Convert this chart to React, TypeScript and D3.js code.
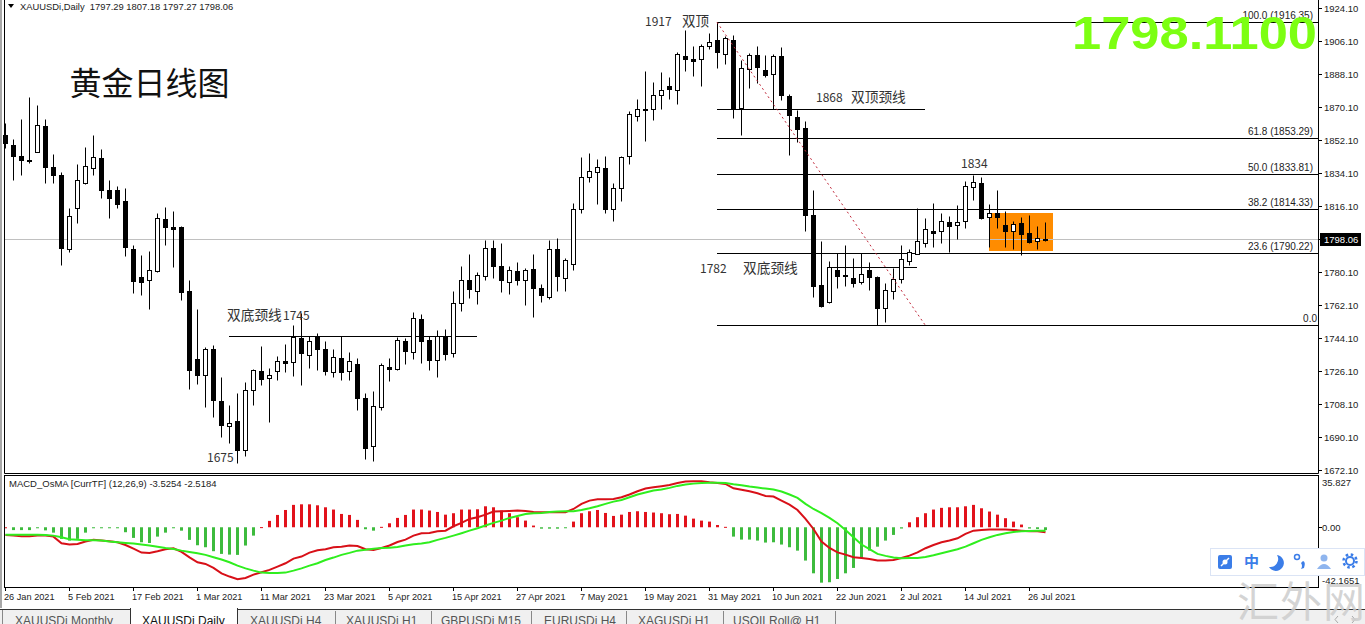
import React from "react";
import * as d3 from "d3";

const opens = [
  1854.8,1849.4,1843.4,1841.2,1845.5,1859.7,1837.4,1833.0,1792.6,1815.0,
  1828.6,1836.8,1842.3,1824.8,1824.8,1818.8,1792.6,1777.4,1775.7,1780.6,
  1809.0,1804.6,1804.6,1769.7,1732.7,1723.9,1738.1,1709.7,1696.1,1698.9,
  1683.0,1715.7,1726.1,1722.3,1726.1,1731.5,1731.0,1744.1,1734.8,1744.6,
  1738.1,1725.5,1733.2,1726.1,1729.9,1711.4,1685.2,1706.5,1728.3,1727.2,
  1742.5,1736.5,1754.4,1743.0,1732.1,1745.2,1735.9,1763.2,1775.7,1769.7,
  1777.9,1793.2,1783.4,1774.6,1780.6,1775.7,1781.7,1771.4,1766.4,1792.6,
  1776.8,1784.5,1814.5,1831.9,1834.6,1836.8,1814.5,1825.9,1843.4,1865.2,
  1868.5,1869.0,1876.6,1881.6,1879.4,1897.9,1896.3,1896.3,1903.4,1906.6,
  1899.0,1906.6,1869.6,1890.8,1898.5,1890.3,1888.1,1897.9,1876.1,1864.6,
  1858.6,1811.2,1773.0,1763.7,1781.2,1778.5,1776.8,1774.6,1781.2,1777.4,
  1760.5,1769.7,1776.3,1786.1,1789.9,1795.9,1802.5,1802.5,1807.4,1805.7,
  1807.9,1826.5,1828.6,1810.1,1812.3,1805.7,1802.5,1806.8,1801.4,1797.0,1797.29,
];
const closes = [
  1850.5,1843.4,1841.2,1840.7,1860.3,1837.4,1833.0,1793.2,1810.6,1830.3,
  1837.9,1842.8,1824.8,1820.5,1817.2,1793.7,1775.2,1774.6,1781.2,1809.5,
  1804.6,1803.5,1769.2,1726.6,1723.9,1738.1,1710.3,1696.7,1697.8,1683.0,
  1715.7,1726.6,1721.7,1723.9,1731.5,1730.4,1744.6,1735.9,1742.5,1738.1,
  1726.1,1733.7,1725.5,1731.5,1711.4,1684.1,1707.0,1729.4,1727.2,1743.0,
  1737.0,1755.0,1742.5,1732.1,1745.2,1735.4,1763.2,1775.7,1770.8,1778.5,
  1793.2,1783.4,1775.7,1781.2,1775.7,1781.2,1771.4,1767.5,1792.6,1777.9,
  1786.6,1814.5,1831.9,1835.2,1837.4,1814.5,1825.9,1842.8,1866.3,1869.0,
  1869.0,1876.6,1879.4,1879.9,1899.0,1896.3,1895.2,1903.4,1905.5,1900.1,
  1907.7,1869.6,1891.4,1898.5,1891.9,1887.5,1897.9,1876.6,1865.7,1858.1,
  1811.2,1772.5,1761.5,1782.8,1777.9,1777.9,1774.1,1779.0,1777.4,1760.5,
  1770.3,1776.3,1787.2,1791.0,1797.0,1803.5,1801.4,1807.9,1805.2,1807.4,
  1827.0,1829.2,1809.5,1812.3,1810.1,1802.5,1806.3,1800.8,1796.5,1798.6,1798.06,
];
const highs = [
  1861.4,1852.7,1863.5,1875.6,1871.2,1863.5,1844.5,1834.6,1815.0,1839.0,
  1848.3,1854.8,1847.2,1830.3,1827.0,1825.9,1794.8,1789.4,1791.6,1812.3,
  1815.6,1813.4,1805.2,1775.7,1759.9,1739.2,1740.3,1722.8,1707.6,1714.1,
  1720.1,1727.2,1739.7,1727.7,1734.3,1740.8,1751.2,1757.7,1745.2,1746.8,
  1742.5,1738.1,1745.2,1736.5,1733.2,1714.1,1715.2,1730.5,1733.2,1744.6,
  1744.1,1758.3,1757.2,1745.2,1748.5,1749.0,1769.7,1783.4,1790.0,1780.1,
  1797.6,1797.6,1795.9,1783.4,1785.5,1782.3,1790.0,1773.5,1797.6,1798.6,
  1787.7,1817.7,1842.8,1845.0,1841.7,1843.4,1828.6,1843.4,1867.9,1874.5,
  1889.7,1883.7,1889.2,1886.5,1900.1,1912.1,1903.4,1904.5,1910.5,1916.35,
  1908.8,1909.4,1895.7,1899.5,1903.4,1898.5,1899.0,1902.8,1877.2,1868.5,
  1862.5,1824.8,1797.0,1786.1,1790.5,1794.8,1787.7,1790.5,1785.5,1777.9,
  1774.1,1782.3,1794.8,1792.6,1815.0,1809.5,1817.7,1812.3,1810.6,1816.6,
  1829.7,1833.0,1831.9,1817.2,1824.8,1813.4,1807.9,1810.1,1811.2,1805.2,1807.18,
];
const lows = [
  1847.7,1830.3,1833.0,1839.6,1845.5,1828.6,1828.6,1783.9,1791.0,1806.9,
  1828.1,1833.0,1820.5,1809.5,1815.0,1788.8,1768.6,1767.5,1759.9,1780.1,
  1794.8,1782.8,1764.8,1716.3,1719.0,1706.5,1701.0,1690.1,1686.9,1675.9,
  1679.7,1707.6,1718.5,1698.3,1721.2,1725.5,1723.4,1718.5,1727.7,1726.6,
  1723.9,1722.8,1721.2,1721.2,1704.8,1678.1,1677.0,1704.8,1720.7,1726.6,
  1729.9,1732.6,1730.4,1726.6,1722.8,1732.1,1733.7,1758.8,1765.9,1762.6,
  1775.7,1776.8,1769.2,1768.1,1773.0,1762.1,1755.6,1763.7,1765.4,1769.7,
  1769.7,1781.2,1812.3,1829.2,1817.2,1812.3,1807.9,1818.8,1839.0,1862.5,
  1851.6,1863.0,1869.0,1874.5,1871.7,1889.7,1887.0,1881.6,1901.7,1891.4,
  1893.6,1864.1,1854.8,1880.5,1883.2,1886.5,1869.0,1873.9,1843.9,1851.0,
  1802.5,1766.5,1761.0,1763.2,1771.4,1772.5,1771.9,1773.5,1770.3,1751.27,
  1752.8,1765.4,1774.1,1783.9,1789.9,1793.7,1793.7,1795.9,1791.0,1798.1,
  1804.1,1819.4,1809.0,1793.7,1804.1,1793.7,1792.6,1789.4,1795.9,1792.6,1797.27,
];
const osma = [
  0,-2,-2,-2,-0.5,-2.2,-3.8,-8.2,-9.4,-8.2,
  -3.8,-0.3,-0.3,-0.3,-0.3,-3.5,-7.5,-10.6,-11.1,-6.6,
  -3.8,-0.3,-2.4,-8.9,-12.7,-14.1,-16.9,-18.8,-19.3,-19.5,
  -12.9,-5.9,0.1,4.5,8.7,12.2,15.8,16.2,16.2,15.5,
  14.1,12.5,9.4,8.7,5.2,-1.4,-2.4,0.3,2.8,6.6,
  8.7,12.5,12.5,11.8,10.8,8.9,9.9,12.5,12.5,12.7,
  14.8,14.1,11.8,9.9,7.1,4.7,1.2,-1,-1,-1,
  -0.5,4,9.9,11.3,12.2,10.1,8,8.9,10.8,11.3,
  10.8,10.4,9.9,9.2,9.4,8.2,6.1,4.7,4,1.6,
  0.3,-6.6,-8.7,-8.7,-9.4,-10.8,-10.6,-12.2,-14.1,-16.5,
  -23.5,-32.5,-39.1,-38.8,-36.5,-32.5,-28.7,-21.7,-16.5,-13.7,
  -9.4,-5.4,-0.9,3.5,7.1,9.9,12.5,13.7,14.1,14.1,
  14.8,15.8,13.4,11.1,8.9,6.4,4,1.9,-0.9,-1.2,-2,
];
const macdLine = [
  -5.4,-5.9,-6.4,-6.4,-5.9,-5.9,-6.6,-11.3,-12.2,-11.8,
  -10.1,-8.9,-9.4,-9.9,-10.6,-12.5,-15.1,-17.9,-18.1,-16.9,
  -15.5,-14.8,-17.4,-21.2,-24.7,-25.9,-28.7,-32.5,-34.8,-36.7,
  -35.8,-33.4,-31.8,-30.1,-27.8,-25.4,-22.1,-20.7,-17.9,-16.2,
  -15.5,-14.1,-13.7,-12.9,-13.2,-15.5,-16.0,-14.6,-12.9,-10.4,
  -8.7,-5.9,-4.2,-4.0,-2.8,-2.4,0.7,3.1,5.9,7.1,
  8.9,11.1,11.3,11.5,11.8,11.5,10.8,10.6,10.6,10.6,
  10.6,12.9,16.5,18.8,19.8,19.8,20.0,21.2,23.1,25.4,
  27.3,28.2,29.0,29.9,31.3,32.3,32.5,32.5,31.8,31.3,
  30.6,27.5,26.4,25.4,24.0,22.1,21.7,18.8,16.0,12.2,
  5.9,-1.2,-10.1,-14.6,-17.7,-19.3,-21.2,-21.7,-22.4,-23.5,
  -23.5,-23.1,-21.7,-20.0,-17.7,-14.8,-12.5,-10.6,-9.4,-7.8,
  -4.7,-2.4,-1.9,-1.6,-1.6,-1.6,-1.9,-2.4,-2.8,-2.8,-3.5254,
];
const signalLine = [
  -5.2,-5.2,-5.2,-5.2,-5.2,-5.4,-5.9,-7.1,-8.5,-8.9,
  -9.2,-9.2,-9.4,-10.1,-10.6,-11.1,-11.5,-12.2,-12.9,-13.7,
  -14.6,-15.3,-16.5,-17.4,-18.4,-19.5,-21.2,-22.8,-24.7,-27.1,
  -29.0,-30.6,-32.0,-32.3,-32.3,-32.0,-30.6,-29.0,-27.1,-25.4,
  -23.1,-21.4,-19.5,-18.1,-16.5,-15.8,-15.1,-14.6,-14.4,-13.9,
  -12.9,-12.0,-11.5,-10.6,-8.9,-7.5,-5.9,-4.2,-2.4,-0.7,
  1.2,3.1,4.7,6.6,8.0,9.4,9.9,10.1,10.8,11.1,
  11.3,11.3,12.2,13.4,14.8,16.5,18.1,19.3,21.2,23.1,
  24.5,25.9,26.6,27.8,29.2,30.1,30.8,31.3,31.5,31.5,
  31.3,30.4,29.7,28.7,28.0,27.3,26.6,25.2,23.1,20.7,
  16.5,12.9,9.9,6.6,2.8,-1.9,-7.1,-12.2,-15.5,-18.8,
  -20.2,-21.4,-21.9,-21.7,-21.7,-21.0,-19.8,-18.4,-16.9,-15.5,
  -13.7,-11.3,-8.9,-7.1,-5.4,-4.2,-3.3,-2.8,-2.6,-2.4,-2.5184,
];

const priceTicks = [1924.1,1906.1,1888.1,1870.1,1852.1,1834.1,1816.1,1798.1,1780.1,1762.1,1744.1,1726.1,1708.1,1690.1,1672.1];
const dateLabels = ["26 Jan 2021","5 Feb 2021","17 Feb 2021","1 Mar 2021","11 Mar 2021","23 Mar 2021","5 Apr 2021","15 Apr 2021","27 Apr 2021","7 May 2021","19 May 2021","31 May 2021","10 Jun 2021","22 Jun 2021","2 Jul 2021","14 Jul 2021","26 Jul 2021"];
const fibLevels = [100.0, 61.8, 50.0, 38.2, 23.6, 0.0];
const fibPrices = [1916.35, 1853.29, 1833.81, 1814.33, 1790.22, 1751.27];
const tabNames = ["XAUUSDi Monthly","XAUUSDi Daily","XAUUSDi H4","XAUUSDi H1","GBPUSDi M15","EURUSDi H4","XAGUSDi H1","USOILRoll@ H1"];
const macdAxis = [35.827, 0, -42.1651];
const macdAxisLabels = ["35.827", "0.00", "-42.1651"];

const UI = "'Liberation Sans', Arial, sans-serif";
const CJK = "'Noto Sans CJK SC', sans-serif";
const AXC = "#222";

const x = d3.scaleLinear().domain([0, 130]).range([5.5, 1045.5]);
const y = d3.scaleLinear().domain([1672.1, 1924.1]).range([470, 8]);
const m = d3.scaleLinear().domain([-42.1651, 35.827]).range([587, 476.5]);
const snap = (v: number) => Math.round(v) + 0.5;

const macdPath = d3.line<number>().x((_, i) => x(i)).y((d) => m(d)).curve(d3.curveLinear);

function Candle({ i }: { i: number }) {
  const o = opens[i], c = closes[i];
  const cx = x(i);
  const top = snap(y(Math.max(o, c)));
  const bot = snap(y(Math.min(o, c)));
  const bear = c < o || bot - top <= 1;
  return (
    <g>
      <line x1={cx} x2={cx} y1={snap(y(highs[i]))} y2={snap(y(lows[i]))} stroke="#000" strokeWidth={1} />
      {bear ? (
        <rect x={cx - 2.5} y={top - 0.5} width={5} height={Math.max(bot - top + 1, 1)} fill="#000" />
      ) : (
        <rect x={cx - 2} y={top} width={4} height={bot - top} fill="#fff" stroke="#000" strokeWidth={1} />
      )}
    </g>
  );
}

const tabX = [15, 142, 250, 346, 441, 544, 638, 733];
const sepX = [335, 431, 531, 626, 723, 835];

export default function App() {
  return (
    <div style={{ position: "absolute", left: 0, top: 0, width: 1365, height: 624, overflow: "hidden" }}>
      <svg width={1365} height={624} style={{ display: "block", background: "#fff" }}>
        {/* window edge */}
        <rect x={0} y={0} width={2} height={608} fill="#a8a8a8" />

        {/* orange box */}
        <rect x={989} y={213} width={64} height={38} fill="#ff8c00" />
        {/* current price line */}
        <line x1={4} x2={1318} y1={snap(y(1798.06))} y2={snap(y(1798.06))} stroke="#c0c0c0" />
        {/* fib lines */}
        {fibPrices.map((p) => (
          <line key={p} x1={717} x2={1318} y1={snap(y(p))} y2={snap(y(p))} stroke="#000" />
        ))}
        {/* neck lines */}
        <line x1={229} x2={477} y1={snap(y(1745.2))} y2={snap(y(1745.2))} stroke="#000" />
        <line x1={717} x2={925} y1={snap(y(1869))} y2={snap(y(1869))} stroke="#000" />
        <line x1={827} x2={917} y1={snap(y(1782.8))} y2={snap(y(1782.8))} stroke="#000" />
        {/* candles */}
        {opens.map((_, i) => <Candle key={i} i={i} />)}
        {/* fib trend */}
        <line x1={717} y1={y(1916.35)} x2={925} y2={y(1751.27)} stroke="#c0283a" strokeDasharray="2 3" />

        {/* annotations */}
        <g fontFamily={CJK} fontSize={12} fill="#333">
          <text x={645} y={26}>1917</text>
          <text x={682} y={26} fontSize={13.5}>双顶</text>
          <text x={816} y={102}>1868</text>
          <text x={851} y={102} fontSize={13.7}>双顶颈线</text>
          <text x={961} y={168}>1834</text>
          <text x={700} y={273}>1782</text>
          <text x={743} y={273} fontSize={13.7}>双底颈线</text>
          <text x={227} y={320} fontSize={13.7}>双底颈线</text>
          <text x={283} y={320}>1745</text>
          <text x={207} y={462}>1675</text>
        </g>
        <text x={69.5} y={95} fontFamily={CJK} fontSize={32} fill="#111">黄金日线图</text>
        {/* fib labels */}
        <g fontFamily={UI} fontSize={10} fill="#222" textAnchor="end">
          {fibLevels.map((l, i) => (
            <text key={l} x={l === 0 ? 1317 : 1313} y={Math.round(y(fibPrices[i])) - 3}>
              {l === 0 ? "0.0" : `${l.toFixed(1)} (${fibPrices[i].toFixed(2)})`}
            </text>
          ))}
        </g>
        {/* big quote */}
        <text x={1072} y={49} fontFamily={UI} fontWeight={700} fontSize={47} fill="#7cff12" textLength={245} lengthAdjust="spacingAndGlyphs">1798.1100</text>

        {/* info text */}
        <path d="M8 4 L14 4 L11 8 Z" fill="#000" />
        <text x={20} y={10} fontFamily={UI} fontSize={9.4} fill="#222" xmlSpace="preserve">XAUUSDi,Daily  1797.29 1807.18 1797.27 1798.06</text>

        {/* main pane frame: left, bottom, right */}
        <path d="M4.5 0 V473.5 H1318.5 V0" fill="none" stroke="#000" />

        {/* price axis */}
        {priceTicks.map((t) => (
          <g key={t}>
            <line x1={1318} x2={1322} y1={snap(y(t))} y2={snap(y(t))} stroke="#000" />
            <text x={1324} y={y(t) + 3.5} fontFamily={UI} fontSize={9.5} fill={AXC}>{t.toFixed(2)}</text>
          </g>
        ))}
        <rect x={1320} y={233} width={41} height={13} fill="#000" />
        <text x={1324} y={243} fontFamily={UI} fontSize={9.5} fill="#fff">1798.06</text>

        {/* MACD pane */}
        <g>
          {osma.map((v, i) => (
            <rect
              key={i}
              x={x(i) - 1.5}
              y={Math.min(m(v), m(0))}
              width={3}
              height={Math.max(Math.abs(m(v) - m(0)), 1)}
              fill={v >= 0 ? "#e2121b" : "#3dbb3d"}
            />
          ))}
          <path d={macdPath(macdLine) ?? ""} fill="none" stroke="#d81018" strokeWidth={2} />
          <path d={macdPath(signalLine) ?? ""} fill="none" stroke="#2fee1e" strokeWidth={2} />
        </g>
        <text x={9} y={487} fontFamily={UI} fontSize={9.5} fill="#222">MACD_OsMA [CurrTF] (12,26,9) -3.5254 -2.5184</text>
        <rect x={4.5} y={475.5} width={1314} height={112} fill="none" stroke="#000" />
        {macdAxis.map((v, i) => (
          <g key={v}>
            {v === 0 && <line x1={1318} x2={1322} y1={snap(m(v))} y2={snap(m(v))} stroke="#000" />}
            <text x={1322} y={i === 0 ? 486 : i === 1 ? 531 : 584} fontFamily={UI} fontSize={9.5} fill={AXC}>{macdAxisLabels[i]}</text>
          </g>
        ))}

        {/* date axis */}
        {dateLabels.map((d, i) => (
          <g key={d}>
            <line x1={x(i * 8)} x2={x(i * 8)} y1={587} y2={591} stroke="#000" />
            <text x={4 + i * 64} y={600} fontFamily={UI} fontSize={9.2} fill={AXC}>{d}</text>
          </g>
        ))}

        {/* tabs */}
        <rect x={0} y={609} width={1365} height={15} fill="#f0f0f0" />
        <line x1={0} x2={1365} y1={609.5} y2={609.5} stroke="#333" />
        <rect x={130} y={608} width={107} height={16} fill="#fff" />
        <line x1={130.5} x2={130.5} y1={608} y2={624} stroke="#333" />
        <line x1={237.5} x2={237.5} y1={608} y2={624} stroke="#333" />
        <line x1={2.5} x2={2.5} y1={610} y2={624} stroke="#888" />
        {sepX.map((s) => <line key={s} x1={s + 0.5} x2={s + 0.5} y1={611} y2={624} stroke="#888" />)}
        {tabNames.map((t, i) => (
          <text key={t} x={tabX[i]} y={624.5} fontFamily={UI} fontSize={12} fill={i === 1 ? "#111" : "#555"}>{t}</text>
        ))}
        <path d="M1338 616 L1335 619.5 L1338 623" fill="none" stroke="#aaa" />
        <path d="M1352 616 L1355 619.5 L1352 623" fill="none" stroke="#aaa" />

        {/* toolbar */}
        <rect x={1210.5} y={548.5} width={154} height={27} fill="#fff" stroke="#dbe4f5" />
        <rect x={1218} y={555} width={14} height={14} rx={2} fill="#3b7de8" />
        <path d="M1221 566 L1229 558" stroke="#fff" strokeWidth={1.5} />
        <circle cx={1225} cy={562} r={2.5} fill="#fff" />
        <text x={1244} y={567} fontFamily={CJK} fontSize={15} fontWeight={700} fill="#3b7de8">中</text>
        <path d="M1277 555 A8 8 0 1 1 1269 567 A8 8 0 0 0 1277 555 Z" fill="#3b7de8" />
        <circle cx={1297} cy={557} r={2.5} fill="none" stroke="#3b7de8" strokeWidth={1.5} />
        <path d="M1303 561 q3 1 1 7 l-3 1 q2 -3 0 -6 Z" fill="#3b7de8" />
        <circle cx={1324} cy={558} r={3.5} fill="#8fb5ee" />
        <path d="M1317 569 q7 -10 14 0 Z" fill="#8fb5ee" />
        <circle cx={1350} cy={561} r={4} fill="none" stroke="#3b7de8" strokeWidth={2} />
        <circle cx={1350} cy={561} r={6.5} fill="none" stroke="#3b7de8" strokeWidth={2.5} strokeDasharray="2.5 2.6" />

        {/* watermark */}
        <text x={1237} y={617} fontFamily={CJK} fontWeight={400} fontSize={42} fill="#cdcdcd" fillOpacity={0.85} textLength={128}>汇外网</text>
      </svg>
    </div>
  );
}
